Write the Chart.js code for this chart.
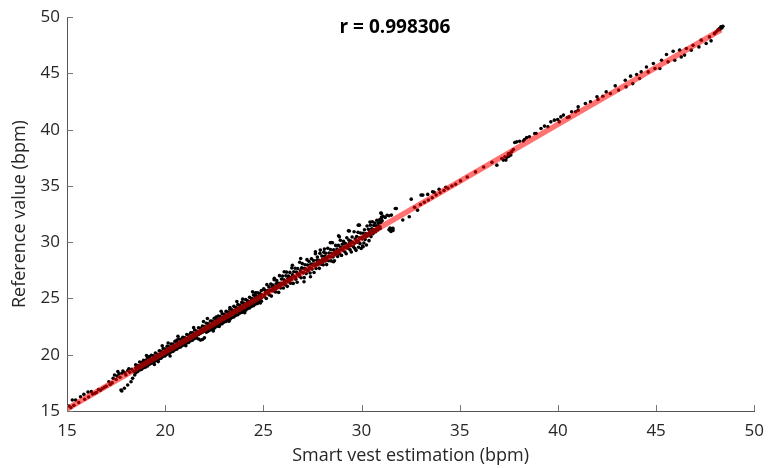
<!DOCTYPE html>
<html>
<head>
<meta charset="utf-8">
<script src="https://cdn.jsdelivr.net/npm/chart.js@4.4.1/dist/chart.umd.min.js"></script>
<style>
  html, body { margin: 0; padding: 0; background: #ffffff; }
  #wrap { width: 774px; height: 468px; }
</style>
</head>
<body>
<div id="wrap"><canvas id="c" width="774" height="468"></canvas></div>
<script>
// ---------- DATA ----------
const xLabel = 'Smart vest estimation (bpm)';
const yLabel = 'Reference value (bpm)';
const rLabel = 'r = 0.998306';
const rLabelAt = [31.7, 49.1];

// regression line end points
const fitX = [15.0, 48.3];
const fitY = [15.18, 48.88];

// sparse low end (x, y)
const lowPts = [
  [15.1,15.44],[15.27,15.98],[15.44,15.98],[15.2,15.3],[15.35,15.5],[15.6,15.75],[15.69,16.27],
  [15.86,16.48],[15.9,16.05],[16.07,16.69],[16.1,16.25],[16.24,16.72],[16.3,16.5],[16.41,16.57],
  [16.5,16.65],[16.6,16.9],[16.7,16.85],[16.8,17.0],[16.9,17.1],[17.0,17.2],[17.13,17.6],
  [17.2,17.35],[17.3,17.5],[17.42,18.2],[17.5,17.8],[17.59,18.5],[17.65,18.3],[17.7,18.0],
  [17.75,16.87],[17.79,16.78],[17.85,18.55],[17.92,17.02],[17.95,18.4],[18.0,18.2],[18.09,17.31],
  [18.1,18.6],[18.2,18.45],[18.26,17.6],[18.3,18.7],[18.34,17.9],[18.4,18.5],[18.45,18.2],
  [17.8,18.35],[17.55,18.1],[17.35,17.9],[18.15,18.75]
];

// dense band rows 18.5-24.9: [x, y, y, y, y]
const bandRows = [
  [18.5,19.1,18.85,18.6,18.4],[18.6,19.05,18.9,18.75,18.5],[18.7,19.35,19.0,18.8,18.65],
  [18.8,19.3,19.15,18.9,18.7],[18.9,19.5,19.25,18.95,18.85],[19.0,19.5,19.3,19.1,18.9],
  [19.1,19.75,19.45,19.2,19.0],[19.2,19.7,19.55,19.3,19.15],[19.3,19.95,19.6,19.4,19.25],
  [19.4,19.9,19.75,19.5,19.3],[19.5,20.15,19.85,19.6,19.45],[19.6,20.05,19.95,19.7,19.5],
  [19.7,20.35,20.05,19.8,19.65],[19.8,20.3,20.15,19.95,19.7],[19.9,20.55,20.2,20.0,19.85],
  [20.0,20.5,20.35,20.1,19.9],[20.1,20.75,20.45,20.2,20.05],[20.2,20.7,20.55,20.3,20.1],
  [20.3,20.95,20.65,20.4,20.25],[20.4,20.95,20.75,20.5,20.3],[20.5,21.2,20.85,20.6,20.45],
  [20.6,21.1,20.95,20.7,20.5],[20.7,21.4,21.05,20.8,20.65],[20.8,21.35,21.15,20.95,20.7],
  [20.9,21.55,21.25,21.0,20.85],[21.0,21.5,21.35,21.1,20.9],[21.1,21.8,21.45,21.2,21.05],
  [21.2,21.75,21.55,21.3,21.1],[21.3,21.95,21.65,21.4,21.25],[21.4,21.95,21.75,21.5,21.3],
  [21.5,22.2,21.85,21.6,21.45],[21.6,22.1,21.95,21.7,21.5],[21.7,22.4,22.05,21.8,21.4],
  [21.8,22.35,22.15,21.9,21.3],[21.9,22.55,22.25,22.0,21.35],[22.0,22.5,22.35,22.1,21.5],
  [22.1,22.8,22.45,22.2,22.0],[22.2,22.75,22.6,22.3,22.1],[22.3,23.0,22.65,22.4,22.2],
  [22.4,23.0,22.8,22.5,22.3],[22.5,23.25,22.9,22.6,22.35],[22.6,23.15,22.95,22.7,22.5],
  [22.7,23.45,23.1,22.85,22.55],[22.8,23.4,23.2,22.9,22.7],[22.9,23.65,23.3,23.0,22.75],
  [23.0,23.6,23.4,23.15,22.9],[23.1,23.85,23.5,23.2,22.95],[23.2,23.8,23.6,23.35,23.1],
  [23.3,24.05,23.7,23.45,23.15],[23.4,24.0,23.8,23.55,23.3],[23.5,24.3,23.9,23.65,23.35],
  [23.6,24.2,24.0,23.75,23.5],[23.7,24.45,24.1,23.85,23.55],[23.8,24.4,24.2,23.95,23.7],
  [23.9,24.65,24.3,24.05,23.75],[24.0,24.6,24.45,24.15,23.9],[24.1,24.9,24.5,24.25,23.95],
  [24.2,24.8,24.65,24.35,24.1],[24.3,25.1,24.7,24.45,24.15],[24.4,25.0,24.85,24.55,24.3],
  [24.5,25.3,24.95,24.65,24.35],[24.6,25.25,25.05,24.75,24.5],[24.7,25.5,25.15,24.85,24.55],
  [24.8,25.45,25.25,24.95,24.7],[24.9,25.7,25.35,25.05,24.75]
];

// edge fuzz of the band 19-25 (x, y)
const fuzzPts = [
  [19.05,19.93],[19.45,19.13],[19.85,20.79],[20.25,19.89],[20.65,21.65],[21.05,20.8],[21.45,22.41],
  [22.15,23.22],[22.45,22.12],[22.85,23.87],[23.25,22.98],[23.65,24.73],[24.05,23.74],[24.45,25.59],
  [24.85,24.6],[23.95,24.94],[21.95,22.96],[20.15,21.04],[19.65,19.39],[22.75,22.52]
];

// looser band 25-31 (x, y)
const bandPts = [
  [25.02,25.87],[25.05,25.15],[25.08,25.73],[25.11,25.51],[25.15,25.0],[25.18,26.23],[25.21,25.71],
  [25.25,25.45],[25.28,26.03],[25.31,25.31],[25.35,25.7],[25.38,26.28],[25.41,25.21],[25.45,26.0],
  [25.48,26.19],[25.52,25.68],[25.55,26.66],[25.58,26.04],[25.62,25.58],[25.65,26.31],[25.68,26.59],
  [25.72,25.98],[25.75,26.36],[25.78,25.54],[25.82,27.03],[25.85,26.36],[25.88,25.94],[25.92,26.73],
  [25.95,26.26],[25.98,26.99],[26.02,25.93],[26.05,26.66],[26.08,26.49],[26.12,26.23],[26.15,27.01],
  [26.18,27.34],[26.22,26.08],[26.25,26.77],[26.28,27.0],[26.32,26.54],[26.35,27.32],[26.38,26.35],
  [26.42,26.89],[26.45,27.72],[26.48,27.1],[26.52,26.34],[26.55,27.37],[26.58,26.9],[26.62,27.69],
  [26.65,26.72],[26.68,27.35],[26.72,26.44],[26.75,27.67],[26.78,27.2],[26.82,26.99],[26.85,28.22],
  [26.88,27.45],[26.92,26.84],[26.95,27.72],[26.98,28.1],[27.02,27.29],[27.05,27.67],[27.08,26.85],
  [27.12,28.0],[27.15,27.63],[27.18,27.21],[27.22,28.45],[27.25,27.98],[27.28,27.46],[27.32,28.3],
  [27.35,27.68],[27.38,27.26],[27.42,28.05],[27.45,28.53],[27.48,27.61],[27.52,28.05],[27.55,28.38],
  [27.58,27.31],[27.62,28.05],[27.65,28.98],[27.68,27.66],[27.72,28.4],[27.75,28.68],[27.78,28.01],
  [27.82,28.4],[27.85,27.68],[27.88,29.01],[27.92,28.31],[27.95,28.04],[27.98,28.77],[28.02,28.51],
  [28.05,27.99],[28.08,29.12],[28.12,28.76],[28.15,28.34],[28.18,29.02],[28.22,28.01],[28.25,28.69],
  [28.28,29.47],[28.32,28.36],[28.35,29.04],[28.38,28.72],[28.42,29.36],[28.45,28.34],[28.48,29.02],
  [28.52,29.96],[28.55,28.69],[28.58,29.32],[28.62,28.36],[28.65,29.14],[28.68,29.72],[28.72,28.97],
  [28.75,29.4],[28.78,28.73],[28.82,29.72],[28.85,29.25],[28.88,28.98],[28.92,30.17],[28.95,29.55],
  [28.98,28.83],[29.02,29.82],[29.05,29.3],[29.08,30.08],[29.12,29.57],[29.15,29.15],[29.18,29.88],
  [29.22,28.97],[29.25,30.4],[29.28,29.63],[29.32,29.47],[29.35,30.2],[29.38,29.93],[29.42,29.32],
  [29.45,30.1],[29.48,29.13],[29.52,30.47],[29.55,30.0],[29.58,29.63],[29.62,30.93],[29.65,29.46],
  [29.68,30.29],[29.72,29.28],[29.75,30.51],[29.78,29.99],[29.82,30.88],[29.85,29.56],[29.88,30.39],
  [29.92,29.88],[29.95,30.81],[29.98,29.44],[30.02,30.43],[30.05,29.66],[30.08,30.79],[30.12,29.93],
  [30.15,31.11],[30.18,30.24],[30.22,30.78],[30.25,29.76],[30.28,31.44],[30.32,30.58],[30.35,31.16],
  [30.38,30.14],[30.42,30.94],[30.45,31.52],[30.48,30.5],[30.52,31.19],[30.55,31.82],[30.58,30.75],
  [30.62,31.49],[30.65,31.12],[30.68,31.7],[30.72,30.94],[30.75,31.47],[30.78,31.95],[30.82,31.19],
  [30.85,31.72],[30.88,31.45],[30.92,31.99],[30.95,31.22],[30.98,31.75],[31.02,32.24]
];

// points lying on the fit line 25-31 (x, y)
const onLinePts = [
  [25.04,25.3],[25.14,25.5],[25.24,25.45],[25.34,25.75],[25.44,25.7],[25.54,25.9],[25.64,25.85],
  [25.74,26.15],[25.84,26.1],[25.94,26.35],[26.04,26.3],[26.14,26.55],[26.24,26.5],[26.34,26.75],
  [26.44,26.7],[26.54,26.95],[26.64,26.9],[26.74,27.15],[26.84,27.1],[26.94,27.35],[27.04,27.3],
  [27.14,27.55],[27.24,27.5],[27.34,27.75],[27.44,27.7],[27.54,27.95],[27.64,27.9],[27.74,28.15],
  [27.84,28.1],[27.94,28.35],[28.04,28.3],[28.14,28.55],[28.24,28.5],[28.34,28.75],[28.44,28.7],
  [28.54,28.95],[28.64,28.9],[28.74,29.15],[28.84,29.1],[28.94,29.35],[29.04,29.3],[29.14,29.55],
  [29.24,29.5],[29.34,29.75],[29.44,29.7],[29.54,29.95],[29.64,29.9],[29.74,30.15],[29.84,30.1],
  [29.94,30.35],[30.04,30.3],[30.14,30.55],[30.24,30.5],[30.34,30.75],[30.44,30.7],[30.54,30.95],
  [30.64,30.9],[30.74,31.15],[30.84,31.1],[30.94,31.35]
];

// scattered points above / below the band
const outlierPts = [
  [25.56,26.79],[26.06,27.37],[26.48,27.96],[26.9,28.56],[27.65,29.15],[27.9,29.3],
  [28.11,29.39],[28.45,29.98],[28.41,29.95],[28.83,30.57],[28.87,30.48],[29.33,31.01],
  [29.38,31.0],[29.83,31.52],[29.89,31.52],[30.43,31.8],[30.98,32.6],[31.01,32.56],
  [31.52,32.41],[31.72,33.0],[27.07,26.49],[27.4,26.93],[28.57,28.26],[30.08,29.6],
  [31.4,31.1],[31.5,30.95],[31.55,31.2],[31.6,31.05],[31.45,31.25],[31.6,31.23],
  [23.3,24.2],[22.6,23.35],[24.6,25.5],[20.6,21.3],[19.2,19.85]
];

// upper range (x, y)
const highPts = [
  [31.0,32.1],[31.1,32.3],[31.2,32.2],[31.3,32.4],[31.4,32.35],[31.05,31.9],[32.1,31.97],
  [32.43,32.26],[32.85,32.85],[31.77,33.0],[32.53,33.83],[33.03,34.19],[33.12,34.19],
  [33.37,34.25],[33.62,34.48],[33.7,34.43],[33.95,34.7],[34.29,34.88],[32.7,33.1],[33.0,33.35],
  [33.2,33.55],[33.4,33.75],[33.6,33.95],[33.8,34.2],[34.0,34.4],[34.2,34.6],[34.4,34.8],
  [34.6,35.0],[34.79,35.15],[35.04,35.45],[35.38,35.8],[35.8,36.25],[36.22,36.68],[36.64,37.1],
  [36.89,36.85],[37.14,37.44],[37.22,37.3],[37.3,37.6],[37.35,37.3],[37.4,37.55],[37.47,37.85],
  [37.5,37.65],[37.55,37.9],[37.6,37.75],[37.65,38.05],[37.73,38.24],[37.8,38.86],[37.9,38.92],
  [38.05,38.98],[38.24,39.0],[38.3,39.13],[38.41,39.3],[38.55,39.37],[38.82,39.66],[38.89,39.66],
  [39.14,40.11],[39.32,40.32],[39.49,40.26],[39.64,40.7],[39.82,40.85],[39.99,40.91],[40.07,40.7],
  [40.15,41.14],[40.28,41.3],[40.48,41.08],[40.57,41.14],[40.7,41.59],[40.9,41.59],[41.03,42.03],
  [41.03,41.74],[41.4,42.33],[41.66,42.48],[41.99,42.93],[42.04,42.69],[42.29,42.98],[42.46,43.36],
  [42.67,43.22],[42.92,43.9],[43.09,43.52],[43.43,44.4],[43.47,43.81],[43.7,44.76],[43.81,44.1],
  [44.01,44.9],[44.16,44.55],[44.24,45.14],[44.51,45.58],[44.6,45.14],[44.86,45.88],[44.94,45.44],
  [45.19,45.44],[45.28,46.18],[45.53,46.68],[45.61,46.03],[45.87,46.98],[45.95,46.18],[46.2,47.07],
  [46.28,46.47],[46.45,46.63],[46.54,47.22],[46.79,47.07],[46.88,47.51],[47.18,47.36],[47.3,47.96],
  [47.55,47.66],[47.72,48.25],[47.8,47.9],[47.97,48.54],[48.05,48.69],[48.14,48.85],[48.22,49.0],
  [48.3,49.14],[48.35,49.05],[48.25,48.9],[48.4,49.2]
];

const xMin = 15, xMax = 50, yMin = 15, yMax = 50, tickStep = 5;

// ---------- build datasets ----------
const scatterData = [];
const addPairs = list => list.forEach(p => scatterData.push({x: p[0], y: p[1]}));
addPairs(lowPts);
bandRows.forEach(r => { for (let i = 1; i < r.length; i++) scatterData.push({x: r[0], y: r[i]}); });
addPairs(fuzzPts);
addPairs(bandPts);
addPairs(onLinePts);
addPairs(outlierPts);
addPairs(highPts);
const fitData = fitX.map((x, i) => ({x: x, y: fitY[i]}));

const FONT = "'Open Sans', 'DejaVu Sans', sans-serif";
const TXT = '#262626';
const AXIS = '#555555';

const extras = {
  id: 'extras',
  afterDraw(chart) {
    const ctx = chart.ctx;
    const xs = chart.scales.x, ys = chart.scales.y;
    const a = chart.chartArea;
    ctx.save();
    ctx.strokeStyle = '#777777';
    ctx.lineWidth = 1;
    xs.ticks.forEach(t => {
      const px = Math.round(xs.getPixelForValue(t.value)) + 0.5;
      ctx.beginPath(); ctx.moveTo(px, a.bottom); ctx.lineTo(px, a.bottom - 6); ctx.stroke();
    });
    ys.ticks.forEach(t => {
      const py = Math.round(ys.getPixelForValue(t.value)) + 0.5;
      ctx.beginPath(); ctx.moveTo(a.left, py); ctx.lineTo(a.left + 6, py); ctx.stroke();
    });
    ctx.fillStyle = '#000000';
    ctx.font = "bold 19px " + FONT;
    ctx.textAlign = 'center';
    ctx.textBaseline = 'middle';
    ctx.fillText(rLabel, xs.getPixelForValue(rLabelAt[0]), ys.getPixelForValue(rLabelAt[1]));
    ctx.restore();
  }
};

new Chart(document.getElementById('c'), {
  type: 'scatter',
  data: {
    datasets: [
      {
        type: 'line',
        label: 'fit',
        data: fitData,
        borderColor: 'rgba(255,0,0,0.55)',
        borderWidth: 5.5,
        pointRadius: 0,
        fill: false,
        order: 0
      },
      {
        label: 'points',
        data: scatterData,
        backgroundColor: '#000000',
        borderColor: '#000000',
        borderWidth: 0,
        pointRadius: 1.8,
        order: 1
      }
    ]
  },
  options: {
    responsive: false,
    animation: false,
    devicePixelRatio: 1,
    layout: { padding: { left: 0, right: 12, top: 17, bottom: 0 } },
    plugins: { legend: { display: false }, tooltip: { enabled: false } },
    scales: {
      x: {
        type: 'linear', min: xMin, max: xMax,
        afterFit: s => { s.height = 57; },
        ticks: { stepSize: tickStep, color: TXT, font: { family: FONT, size: 17 }, padding: 10, maxRotation: 0 },
        grid: { display: true, drawOnChartArea: false, drawTicks: false },
        border: { display: true, color: AXIS, width: 1 },
        title: { display: true, text: xLabel, color: TXT, font: { family: FONT, size: 18 }, padding: { top: 0, bottom: 1 } }
      },
      y: {
        type: 'linear', min: yMin, max: yMax,
        afterFit: s => { s.width = 67; },
        ticks: { stepSize: tickStep, color: TXT, font: { family: FONT, size: 17 }, padding: 7 },
        grid: { display: true, drawOnChartArea: false, drawTicks: false },
        border: { display: true, color: AXIS, width: 1 },
        title: { display: true, text: yLabel, color: TXT, font: { family: FONT, size: 18 }, padding: { top: 9, bottom: 0 } }
      }
    }
  },
  plugins: [extras]
});
</script>
</body>
</html>
